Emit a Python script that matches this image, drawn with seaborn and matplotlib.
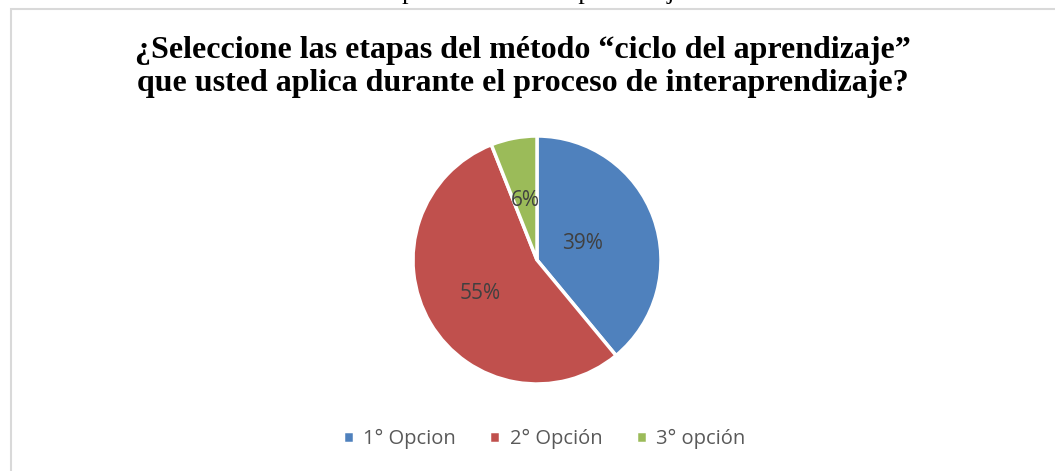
import matplotlib
matplotlib.use("Agg")
import matplotlib.pyplot as plt
import numpy as np
import seaborn as sns
from matplotlib.patches import Rectangle

labels = ['1° Opcion', '2° Opción', '3° opción']
values = [39, 55, 6]
colors = ['#4F81BD', '#C0504D', '#9BBB59']
label_dist = [0.39, 0.53, 0.49]

title = '¿Seleccione las etapas del método “ciclo del aprendizaje”\nque usted aplica durante el proceso de interaprendizaje?'
above = 'el proceso de interaprendizaje'

sns.set_theme(style='white')
plt.rcParams['font.family'] = ['Open Sans', 'DejaVu Sans']

W, H = 1055, 471
fig = plt.figure(figsize=(W / 100, H / 100), dpi=100)

# chart frame (left and top edges visible)
fig.patches.append(Rectangle((11 / W, -0.1), 1.2, (462 / H) + 0.1, transform=fig.transFigure,
                             fill=False, edgecolor='#D9D9D9', linewidth=1.5))

fig.text(531 / W, 1 + 0.5 / H, above, ha='center', va='baseline',
         family='Liberation Serif', fontsize=18.5, color='black')

fig.text(523 / W, 1 - 91 / H, title, ha='center', va='baseline',
         family='Liberation Serif', fontweight='bold', fontsize=23,
         linespacing=1.2, color='black')

R = 124
cx, cy = 537, H - 260
ax = fig.add_axes([(cx - R) / W, (cy - R) / H, 2 * R / W, 2 * R / H])
wedges, _ = ax.pie(values, colors=colors, startangle=90, counterclock=False,
                   wedgeprops=dict(edgecolor='white', linewidth=2.5))
ax.set_xlim(-1, 1)
ax.set_ylim(-1, 1)

for w, v, d in zip(wedges, values, label_dist):
    ang = np.deg2rad((w.theta1 + w.theta2) / 2)
    ax.text(d * np.cos(ang), d * np.sin(ang), f'{v}%', ha='center', va='center',
            fontsize=15, color='#404040')

fig.legend(wedges, labels, loc='center', bbox_to_anchor=(544 / W, 32 / H), ncol=3,
           frameon=False, fontsize=14.5, labelcolor='#595959', handlelength=0.55,
           handleheight=0.55, handletextpad=0.45, columnspacing=1.68)

fig.savefig('out.png', dpi=100)
